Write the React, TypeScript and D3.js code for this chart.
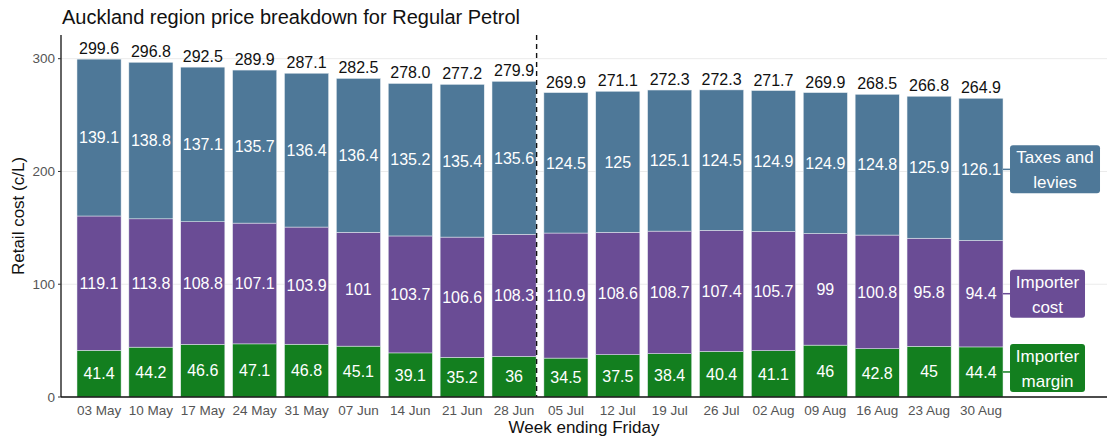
import React from "react";
import * as d3 from "d3";

const weeks = ["03 May", "10 May", "17 May", "24 May", "31 May", "07 Jun", "14 Jun", "21 Jun", "28 Jun", "05 Jul", "12 Jul", "19 Jul", "26 Jul", "02 Aug", "09 Aug", "16 Aug", "23 Aug", "30 Aug"];
const importerMargin = [41.4, 44.2, 46.6, 47.1, 46.8, 45.1, 39.1, 35.2, 36, 34.5, 37.5, 38.4, 40.4, 41.1, 46, 42.8, 45, 44.4];
const importerCost = [119.1, 113.8, 108.8, 107.1, 103.9, 101, 103.7, 106.6, 108.3, 110.9, 108.6, 108.7, 107.4, 105.7, 99, 100.8, 95.8, 94.4];
const taxesLevies = [139.1, 138.8, 137.1, 135.7, 136.4, 136.4, 135.2, 135.4, 135.6, 124.5, 125, 125.1, 124.5, 124.9, 124.9, 124.8, 125.9, 126.1];
const totals = [299.6, 296.8, 292.5, 289.9, 287.1, 282.5, 278.0, 277.2, 279.9, 269.9, 271.1, 272.3, 272.3, 271.7, 269.9, 268.5, 266.8, 264.9];
const yTicks = [0, 100, 200, 300];
const dividerAfter = "28 Jun";

const series = [
  { key: "margin", label: ["Importer", "margin"], values: importerMargin, color: "#137f1f", boxW: 75 },
  { key: "cost", label: ["Importer", "cost"], values: importerCost, color: "#6a4c95", boxW: 75 },
  { key: "taxes", label: ["Taxes and", "levies"], values: taxesLevies, color: "#4e7898", boxW: 90 },
];

const W = 1113;
const H = 439;
const FONT = "'Liberation Sans', Arial, sans-serif";

export default function App() {
  const panelL = 61, panelR = 1107, panelT = 35, panelB = 397;
  const x = d3.scaleBand<string>().domain(weeks).range([73.1, 1006.9]).paddingInner(0.15).paddingOuter(0.075);
  const y = d3.scaleLinear().domain([0, 321]).range([panelB, panelT]);
  const bw = x.bandwidth();

  const stacks = weeks.map((w, i) => {
    let acc = 0;
    return series.map((s) => {
      const y0 = acc;
      acc += s.values[i];
      return { key: s.key, color: s.color, y0, y1: acc, v: s.values[i] };
    });
  });

  const divX = (x(dividerAfter) as number) + bw + 0.5;
  const last = weeks.length - 1;
  const lastX = (x(weeks[last]) as number) + bw;

  return (
    <svg width={W} height={H} style={{ position: "absolute", left: 0, top: 0, background: "#fff" }} fontFamily={FONT}>
      <text x={62} y={24} fontSize={20} fill="#111">Auckland region price breakdown for Regular Petrol</text>

      {yTicks.filter((t) => t > 0).map((t) => (
        <line key={"g" + t} x1={panelL} x2={panelR} y1={y(t)} y2={y(t)} stroke="#ebebeb" strokeWidth={1} />
      ))}

      {weeks.map((w, i) => (
        <g key={w}>
          {stacks[i].map((seg) => (
            <g key={seg.key}>
              <rect x={x(w)} y={y(seg.y1)} width={bw} height={y(seg.y0) - y(seg.y1)} fill={seg.color} stroke="#e8eef2" strokeWidth={0.5} />
              <text x={(x(w) as number) + bw / 2} y={y((seg.y0 + seg.y1) / 2)} dy="0.36em" textAnchor="middle" fontSize={16} fill="#fff">{String(seg.v)}</text>
            </g>
          ))}
          <text x={(x(w) as number) + bw / 2} y={y(totals[i]) - 5} textAnchor="middle" fontSize={16} fill="#111">{totals[i].toFixed(1)}</text>
        </g>
      ))}

      <line x1={divX} x2={divX} y1={panelT} y2={panelB} stroke="#111" strokeWidth={1.4} strokeDasharray="5,4" />

      {series.map((s) => {
        const seg = stacks[last].find((d) => d.key === s.key)!;
        const cy = y((seg.y0 + seg.y1) / 2);
        const bh = 48;
        let top = cy - bh / 2;
        if (top + bh > panelB - 5) top = panelB - 5 - bh;
        const boxX = lastX + 7;
        return (
          <g key={"lab" + s.key}>
            <line x1={lastX} x2={boxX} y1={cy} y2={cy} stroke={s.color} strokeWidth={1.5} />
            <rect x={boxX} y={top} width={s.boxW} height={bh} rx={3} fill={s.color} />
            <text x={boxX + s.boxW / 2} y={top + 18} textAnchor="middle" fontSize={17} fill="#fff">{s.label[0]}</text>
            <text x={boxX + s.boxW / 2} y={top + 43} textAnchor="middle" fontSize={17} fill="#fff">{s.label[1]}</text>
          </g>
        );
      })}

      <line x1={panelL} x2={panelL} y1={panelT} y2={panelB} stroke="#111" strokeWidth={1.3} />
      <line x1={panelL} x2={panelR} y1={panelB} y2={panelB} stroke="#111" strokeWidth={1.3} />

      {yTicks.map((t) => (
        <g key={"yt" + t}>
          <line x1={panelL - 3} x2={panelL} y1={y(t)} y2={y(t)} stroke="#333" strokeWidth={1} />
          <text x={panelL - 6} y={y(t)} dy="0.35em" textAnchor="end" fontSize={13.5} fill="#555">{t}</text>
        </g>
      ))}

      {weeks.map((w) => (
        <text key={"xt" + w} x={(x(w) as number) + bw / 2} y={415} textAnchor="middle" fontSize={13.5} fill="#555">{w}</text>
      ))}

      <text x={(panelL + panelR) / 2} y={433} textAnchor="middle" fontSize={17} fill="#111">Week ending Friday</text>
      <text transform={`translate(24,${(panelT + panelB) / 2}) rotate(-90)`} textAnchor="middle" fontSize={17} fill="#111">Retail cost (c/L)</text>
    </svg>
  );
}
